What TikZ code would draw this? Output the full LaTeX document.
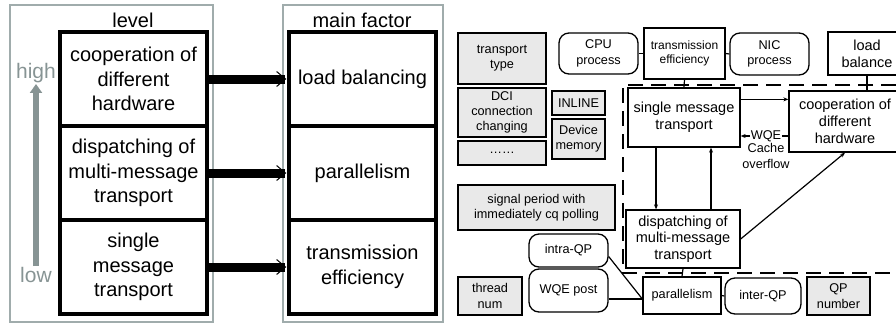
\documentclass[tikz,border=0pt]{standalone}
\usepackage{fontspec}
\setmainfont{Liberation Sans}
\usetikzlibrary{arrows.meta,positioning}
\definecolor{framegray}{RGB}{160,172,172}
\definecolor{textgray}{RGB}{135,148,148}
\definecolor{boxfill}{RGB}{233,233,233}
\begin{document}
\begin{tikzpicture}[x=1pt,y=-1pt,
every node/.style={inner sep=1pt, align=center},
frame/.style={draw=framegray, line width=1.8pt},
levelbox/.style={draw=black, line width=3.3pt, minimum width=147pt, minimum height=94pt,
  font=\fontsize{20}{24.5}\selectfont},
title/.style={font=\fontsize{20}{24}\selectfont},
scale label/.style={text=textgray, font=\fontsize{21}{24}\selectfont},
bigarrow/.style={line width=9pt, -{Straight Barb[length=9pt,width=15pt,line width=1pt]}},
plain/.style={draw=black, line width=1.3pt, font=\fontsize{12.7}{15.3}\selectfont},
grey/.style={plain, fill=boxfill, line width=1.8pt},
soft/.style={plain, rounded corners=10pt},
mid/.style={plain, font=\fontsize{14.5}{16.7}\selectfont},
link/.style={draw=black, line width=1.2pt},
arrow/.style={link, -{Stealth[length=5pt,width=4pt]}},
dashed box/.style={draw=black, line width=1.8pt, dash pattern=on 15pt off 8pt}]
\useasboundingbox (0,0) rectangle (896,327);
% left panel
\draw[frame] (10,5) rectangle (213,322);
\draw[frame] (283,5) rectangle (443,322);
\node[title] (level) at (133,20) {level};
\node[title] (factor) at (362,20) {main factor};
\node[levelbox] (lv3) at (133.5,79) {cooperation of\\different\\hardware};
\node[levelbox] (lv2) at (133.5,173) {dispatching of\\multi-message\\transport};
\node[levelbox] (lv1) at (133.5,267) {single\\message\\transport};
\node[levelbox] (mf3) at (362.5,79) {load balancing};
\node[levelbox] (mf2) at (362.5,173) {parallelism};
\node[levelbox] (mf1) at (362.5,267) {transmission\\efficiency};
\foreach \i in {1,2,3}
  \draw[bigarrow] (lv\i.east) -- ([xshift=-1pt]mf\i.west);
\node[scale label] (high) at (36,73) {high};
\node[scale label] (low) at (36,275) {low};
\draw[draw=textgray, line width=6pt, -{Triangle[length=9pt,width=12pt]}] (low.north) -- (high.south);
% right panel
\draw[dashed box] (896,85) -- (623,85) -- (623,273) -- (896,273);
\node[grey, minimum width=88pt, minimum height=51pt] (ttype) at (502,58.5) {transport\\type};
\node[grey, minimum width=88pt, minimum height=49pt] (dci) at (502,112.5) {DCI\\connection\\changing};
\node[grey, minimum width=88pt, minimum height=24pt] (dots) at (502,153) {\dots\dots};
\node[grey, minimum width=53pt, minimum height=24pt] (inline) at (578.5,103) {INLINE};
\node[grey, minimum width=53pt, minimum height=40pt] (devmem) at (578.5,139) {Device\\memory};
\node[soft, minimum width=79pt, minimum height=41pt] (cpu) at (598.5,53.5) {CPU\\process};
\node[plain, minimum width=81pt, minimum height=51pt, font=\fontsize{12}{14}\selectfont] (txeff) at (684.5,53.5) {transmission\\efficiency};
\node[soft, minimum width=79pt, minimum height=42pt] (nic) at (769.5,54) {NIC\\process};
\node[mid, minimum width=78pt, minimum height=43pt] (loadbal) at (867,53.5) {load\\balance};
\node[mid, minimum width=112pt, minimum height=59pt] (single) at (684,117.5) {single message\\transport};
\node[mid, minimum width=112pt, minimum height=61pt] (coop) at (845,121.5) {cooperation of\\different\\hardware};
\node[grey, minimum width=157pt, minimum height=45pt] (signal) at (536.5,207.5) {signal period with\\immediately cq polling};
\node[mid, minimum width=114pt, minimum height=58pt] (disp) at (683,239) {dispatching of\\multi-message\\transport};
\node[soft, minimum width=79pt, minimum height=33pt] (intra) at (568.5,250.5) {intra-QP};
\node[soft, minimum width=79pt, minimum height=43pt] (wqepost) at (568.5,290.5) {WQE post};
\node[grey, minimum width=64pt, minimum height=38pt] (thread) at (490,296) {thread\\num};
\node[plain, minimum width=78pt, minimum height=37pt] (par) at (682,295.5) {parallelism};
\node[soft, minimum width=76pt, minimum height=36pt] (inter) at (763,296) {inter-QP};
\node[grey, minimum width=63pt, minimum height=38pt] (qpnum) at (838.5,296) {QP\\number};
\node[font=\fontsize{12.7}{15.3}\selectfont, inner sep=0.5pt] (wqe) at (766,136) {WQE};
\node[font=\fontsize{12.7}{15.3}\selectfont, below=0pt of wqe] (cache) {Cache\\overflow};
% connectors
\draw[link] (cpu.east) -- (txeff.west);
\draw[link] (nic.west) -- (txeff.east);
\draw[link] (txeff.south) -- (single.north);
\draw[link] (loadbal.south) -- (loadbal.south |- coop.north);
\draw[arrow] ([yshift=-12pt]single.north east) -- ([yshift=-12pt]single.north east -| coop.west);
\draw[link] (wqe.east) -- (wqe.east -| coop.west);
\draw[arrow] (wqe.west) -- (wqe.west -| single.east);
\draw[arrow] ([xshift=-28pt]single.south) -- ([xshift=-28pt]single.south |- disp.north);
\draw[arrow] ([xshift=28pt]disp.north) -- ([xshift=28pt]disp.north |- single.south);
\draw[arrow] (disp.east) -- (coop.south);
\draw[link] (disp.south) -- (par.north);
\draw[link] ([yshift=-6pt]intra.east) -- ([yshift=-3.5pt]par.west);
\draw[link] ([yshift=-8.5pt]wqepost.east) -- ([yshift=-3.5pt]par.west);
\draw[link] (par.east) -- (inter.west);
\end{tikzpicture}
\end{document}
